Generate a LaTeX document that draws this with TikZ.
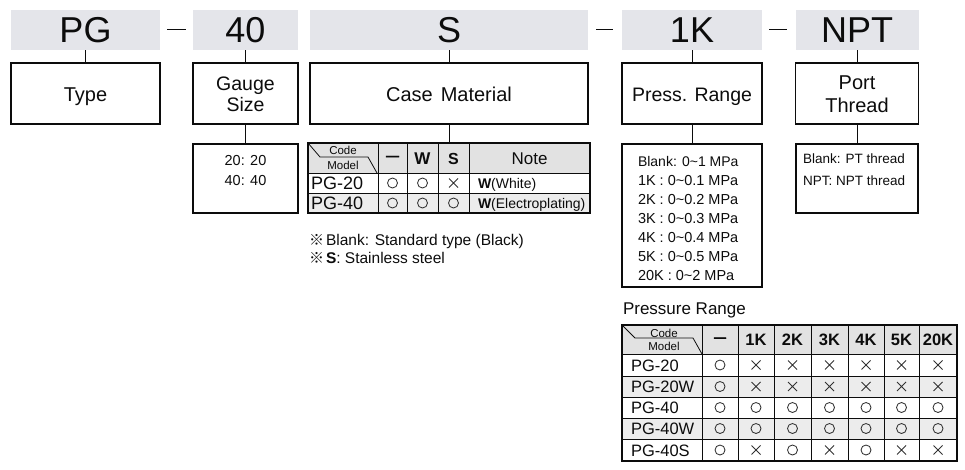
\documentclass[tikz,border=0pt]{standalone}
\usepackage{fontspec}
\setmainfont{Liberation Sans}
\newfontfamily\cjk{Noto Sans CJK JP}
\newcommand{\myfs}[1]{\fontsize{#1}{#1}\selectfont}
\definecolor{hdrfill}{RGB}{228,229,234}
\definecolor{headgray}{RGB}{226,226,226}
\definecolor{rowfill}{RGB}{236,236,236}
\definecolor{ink}{RGB}{12,12,12}
\definecolor{symc}{RGB}{50,50,50}
\newcommand{\symO}[2]{\draw[sym] (#1,#2) circle[radius=5pt];}
\newcommand{\symX}[2]{\draw[sym] ({#1-4.5},{#2-4.5}) -- ({#1+4.5},{#2+4.5}) ({#1-4.5},{#2+4.5}) -- ({#1+4.5},{#2-4.5});}
\newcommand{\heavydash}{{\addfontfeature{FakeBold=3}—}}
\begin{document}
\begin{tikzpicture}[x=1pt,y=-1pt,
  hdr/.style={fill=hdrfill, inner sep=0pt, outer sep=0pt, font=\myfs{36}, text=ink, minimum height=40pt},
  lblbox/.style={draw=ink, line width=1.2pt, inner sep=0pt, outer sep=0pt},
  conn/.style={draw=ink, line width=1pt},
  txt/.style={inner sep=0pt, outer sep=0pt, text=ink},
  sym/.style={draw=symc, line width=0.85pt},
  gridl/.style={draw=ink, line width=1pt},
  frame/.style={draw=ink, line width=2pt},
  zig/.style={draw=ink, line width=0.8pt},
]
\useasboundingbox (0,0) rectangle (965,469);

% ---------- header codes ----------
\node[hdr, minimum width=149pt] (hPG) at (85.5,30) {PG};
\node[hdr, minimum width=105pt] (h40) at (245.5,30) {40};
\node[hdr, minimum width=278pt] (hS) at (449,30) {S};
\node[hdr, minimum width=140pt] (h1K) at (692,30) {1K};
\node[hdr, minimum width=123pt] (hNPT) at (857,30) {NPT};

\draw[conn] (167,29) -- (186,29);
\draw[conn] (596,29) -- (613,29);
\draw[conn] (769,29) -- (787,29);

% ---------- label boxes ----------
\node[lblbox, minimum width=149pt, minimum height=61pt] (bType) at (85.5,93.5) {};
\node[lblbox, minimum width=105pt, minimum height=61pt] (bGauge) at (245.5,93.5) {};
\node[lblbox, minimum width=278pt, minimum height=61pt] (bCase) at (449,93.5) {};
\node[lblbox, minimum width=140pt, minimum height=61pt] (bPress) at (692,93.5) {};
\node[lblbox, minimum width=123pt, minimum height=61pt] (bPort) at (857,93.5) {};

\node[txt, anchor=base, font=\myfs{20}] at (85.5,101.5) {Type};
\node[txt, align=center, font=\fontsize{19.5}{21}\selectfont] at (245.5,94.4) {Gauge\\Size};
\node[txt, anchor=base, font=\myfs{20}] at (449,101.5) {Case\hspace{8pt}Material};
\node[txt, anchor=base, font=\myfs{19.5}] at (692,101.5) {Press. Range};
\node[txt, align=center, font=\fontsize{20}{23}\selectfont] at (857,94.4) {Port\\Thread};

\draw[conn] (hPG.south) -- (bType.north);
\draw[conn] (h40.south) -- (bGauge.north);
\draw[conn] (hS.south) -- (bCase.north);
\draw[conn] (h1K.south) -- (bPress.north);
\draw[conn] (hNPT.south) -- (bPort.north);

% ---------- gauge size ----------
\node[lblbox, minimum width=105pt, minimum height=69pt] (sGauge) at (245.5,178.5) {};
\node[txt, anchor=base, font=\myfs{14.5}] at (245.5,165) {20: 20};
\node[txt, anchor=base, font=\myfs{14.5}] at (245.5,185) {40: 40};
\draw[conn] (bGauge.south) -- (sGauge.north);

% ---------- case material table ----------
\node[inner sep=0pt, outer sep=0pt, minimum width=282pt, minimum height=70pt] (tCase) at (449,178) {};
\fill[headgray] (308,143) rectangle (590,173);
\fill[rowfill] (308,193) rectangle (590,213);
\foreach \y in {173,193} \draw[gridl] (308,\y) -- (590,\y);
\foreach \x in {378,407,438,469} \draw[gridl] (\x,143) -- (\x,213);
\draw[zig] (308,143) -- (320,157) -- (368,157) -- (377,173);
\draw[frame] (308,143) rectangle (590,213);
\draw[conn] (bCase.south) -- (tCase.north);

\node[txt, anchor=base, font=\myfs{11.5}] at (343,154) {Code};
\node[txt, anchor=base, font=\myfs{11.5}] at (343,169) {Model};
\node[txt, font=\bfseries\myfs{13}] at (392.5,158) {\heavydash};
\node[txt, anchor=base, font=\bfseries\myfs{17}] at (422.5,164) {W};
\node[txt, anchor=base, font=\bfseries\myfs{16}] at (453.5,164) {S};
\node[txt, anchor=base, font=\myfs{17}] at (529.5,164) {Note};

\node[txt, anchor=base west, font=\myfs{18}] at (311,189.5) {PG-20};
\node[txt, anchor=base west, font=\myfs{18}] at (311,209.5) {PG-40};
\node[txt, anchor=base west, font=\myfs{14}] at (478,188) {\textbf{W}(White)};
\node[txt, anchor=base west, font=\myfs{14}] at (478,208) {\textbf{W}(Electroplating)};

\symO{392.5}{183} \symO{422.5}{183} \symX{453.5}{183}
\symO{392.5}{203} \symO{422.5}{203} \symO{453.5}{203}

\node[txt, anchor=base west, font=\myfs{15.5}] at (309,245) {{\cjk\myfs{15}※}\hspace{2pt}Blank: Standard type (Black)};
\node[txt, anchor=base west, font=\myfs{15.5}] at (309,263) {{\cjk\myfs{15}※}\hspace{2pt}\textbf{S}: Stainless steel};

% ---------- pressure range ----------
\node[lblbox, minimum width=140pt, minimum height=143pt] (sPress) at (692,215.5) {};
\draw[conn] (bPress.south) -- (sPress.north);
\node[txt, anchor=base west, font=\myfs{14}] at (638,166.5) {Blank: 0\textasciitilde 1 MPa};
\foreach \k/\v/\y in {1K/0.1/185.4, 2K/0.2/204.3, 3K/0.3/223.2, 4K/0.4/242.1, 5K/0.5/261}
  \node[txt, anchor=base west, font=\myfs{14.5}] at (638,\y) {\k\hspace{4pt}:\hspace{4pt}0\textasciitilde\v\ MPa};
\node[txt, anchor=base west, font=\myfs{14.5}] at (638,280) {20K\hspace{4pt}:\hspace{4pt}0\textasciitilde 2 MPa};

% ---------- port thread ----------
\node[lblbox, minimum width=122pt, minimum height=69pt] (sPort) at (857,178.5) {};
\draw[conn] (bPort.south) -- (sPort.north);
\node[txt, anchor=base west, font=\myfs{13.5}] at (803,163.5) {Blank: PT thread};
\node[txt, anchor=base west, font=\myfs{13.5}] at (803,185) {NPT: NPT thread};

% ---------- pressure range table ----------
\node[txt, anchor=base west, font=\myfs{17}] (ptitle) at (623,314) {Pressure Range};
\fill[headgray] (622,325) rectangle (957,354);
\fill[rowfill] (622,376) rectangle (957,397);
\fill[rowfill] (622,418) rectangle (957,439);
\foreach \x in {702,738,774,811,848,884,919} \draw[gridl] (\x,325) -- (\x,461);
\foreach \y in {354,376,397,418,439} \draw[gridl] (622,\y) -- (957,\y);
\draw[zig] (622,325) -- (635,338) -- (693,338) -- (702,354);
\draw[frame] (622,325) rectangle (957,461);

\node[txt, anchor=base, font=\myfs{11.5}] at (664,337) {Code};
\node[txt, anchor=base, font=\myfs{11.5}] at (664,350) {Model};
\node[txt, font=\bfseries\myfs{12}] at (720,339.5) {\heavydash};
\foreach \t/\x in {1K/756, 2K/792.5, 3K/829.5, 4K/866, 5K/901.5, 20K/938}
  \node[txt, anchor=base, font=\bfseries\myfs{16.5}] at (\x,345.5) {\t};
\foreach \n/\y in {PG-20/365, PG-20W/386.5, PG-40/407.5, PG-40W/428.5, PG-40S/450}
  \node[txt, anchor=base west, font=\myfs{16.5}] at (631,\y+6) {\n};

\foreach \y in {365,386.5,407.5,428.5,450} {\symO{720}{\y}}
\foreach \x in {756,792.5,829.5,866,901.5,938} {
  \symX{\x}{365} \symX{\x}{386.5} \symO{\x}{407.5} \symO{\x}{428.5}
}
\symX{756}{450} \symO{792.5}{450} \symX{829.5}{450} \symO{866}{450} \symX{901.5}{450} \symX{938}{450}
\end{tikzpicture}
\end{document}
